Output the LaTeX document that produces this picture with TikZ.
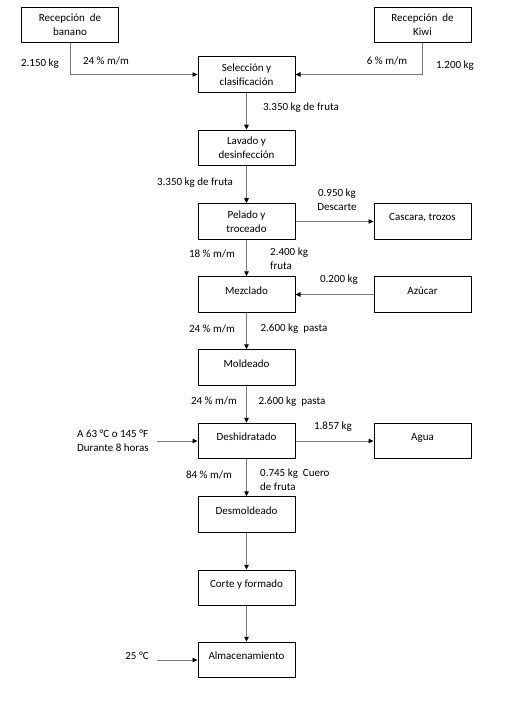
\documentclass[tikz,border=0pt]{standalone}
\usepackage{fontspec}
\setmainfont{Carlito}
\usepackage{tikz}
\usetikzlibrary{arrows.meta}
\definecolor{linegray}{RGB}{120,120,120}

\begin{document}
\begin{tikzpicture}[x=1pt,y=-1pt,
        every node/.style={font=\fontsize{11pt}{14pt}\selectfont},
        proc/.style={draw=black,line width=1pt,fill=white,align=center,
            minimum width=97pt,minimum height=35.5pt,inner sep=2pt},
        onerow/.style={text height=8pt,text depth=9pt}]
        \useasboundingbox (0,0) rectangle (518,719);

        \begin{scope}[every node/.append style={proc}]
            \node (banano) at (70, 25) {Recepción~~de\\banano};
            \node (kiwi) at (422.5, 25) {Recepción~~de\\Kiwi};
            \node (seleccion) at (246.5, 74.5) {Selección y\\clasificación};
            \node (lavado) at (246.5, 148) {Lavado y\\desinfección};
            \node (pelado) at (246.5, 221.5) {Pelado y\\troceado};
            \node[onerow] (cascara) at (422.5, 221.5) {Cascara, trozos};
            \node[onerow] (mezclado) at (246.5, 294.5) {Mezclado};
            \node[onerow] (azucar) at (422.5, 294.5) {Azúcar};
            \node[onerow] (moldeado) at (246.5, 367.5) {Moldeado};
            \node[onerow] (deshidratado) at (246.5, 441) {Deshidratado};
            \node[onerow] (agua) at (422.5, 441) {Agua};
            \node[onerow] (desmoldeado) at (246.5, 514.5) {Desmoldeado};
            \node[onerow] (corte) at (246.5, 588) {Corte y formado};
            \node[onerow] (almacen) at (246.5, 660) {Almacenamiento};
        \end{scope}

        \begin{scope}[every node/.append style={inner sep=1pt}]
            \node (m1) at (40, 64) {2.150 kg};
            \node (p1) at (106, 61) {24 \% m/m};
            \node (p2) at (387, 61) {6 \% m/m};
            \node (m2) at (455, 66) {1.200 kg};
            \node (m3) at (301, 108) {3.350 kg de fruta};
            \node (m4) at (195, 183) {3.350 kg de fruta};
            \node[align=center] (m5) at (337, 200) {0.950 kg\\Descarte};
            \node (p3) at (212, 254) {18 \% m/m};
            \node[align=left,anchor=west] (m6) at (269, 259) {2.400 kg\\fruta};
            \node (m7) at (339, 280) {0.200 kg};
            \node (p4) at (212, 329) {24 \% m/m};
            \node (m8) at (294, 329) {2.600 kg~~pasta};
            \node (p5) at (214, 401) {24 \% m/m};
            \node (m9) at (292, 402) {2.600 kg~~pasta};
            \node[align=left,anchor=west] (calor) at (76, 441) {A 63 °C o 145 °F\\Durante 8 horas};
            \node (m10) at (333, 427) {1.857 kg};
            \node (p6) at (209, 475) {84 \% m/m};
            \node[align=left,anchor=west] (m11) at (259, 480) {0.745 kg~~Cuero\\de fruta};
            \node (temp) at (137, 656) {25 °C};
        \end{scope}

        \begin{scope}[>={Triangle[black,length=5pt,width=4.5pt]},
                    flow/.style={->,draw=linegray,line width=.8pt}]
            \draw [flow] (banano.south) |- (seleccion.west);
            \draw [flow] (kiwi.south) |- (seleccion.east);
            \draw [flow] (seleccion) -- (lavado);
            \draw [flow] (lavado) -- (pelado);
            \draw [flow] (pelado) -- (cascara);
            \draw [flow] (pelado) -- (mezclado);
            \draw [flow] (azucar) -- (mezclado);
            \draw [flow] (mezclado) -- (moldeado);
            \draw [flow] (moldeado) -- (deshidratado);
            \draw [flow, shorten <=7pt] (calor.east |- deshidratado.west) -- (deshidratado.west);
            \draw [flow] (deshidratado) -- (agua);
            \draw [flow] (deshidratado) -- (desmoldeado);
            \draw [flow] (desmoldeado) -- (corte);
            \draw [flow] (corte) -- (almacen);
            \draw [flow, shorten <=7pt] (temp.east |- almacen.west) -- (almacen.west);
        \end{scope}
    \end{tikzpicture}
\end{document}
